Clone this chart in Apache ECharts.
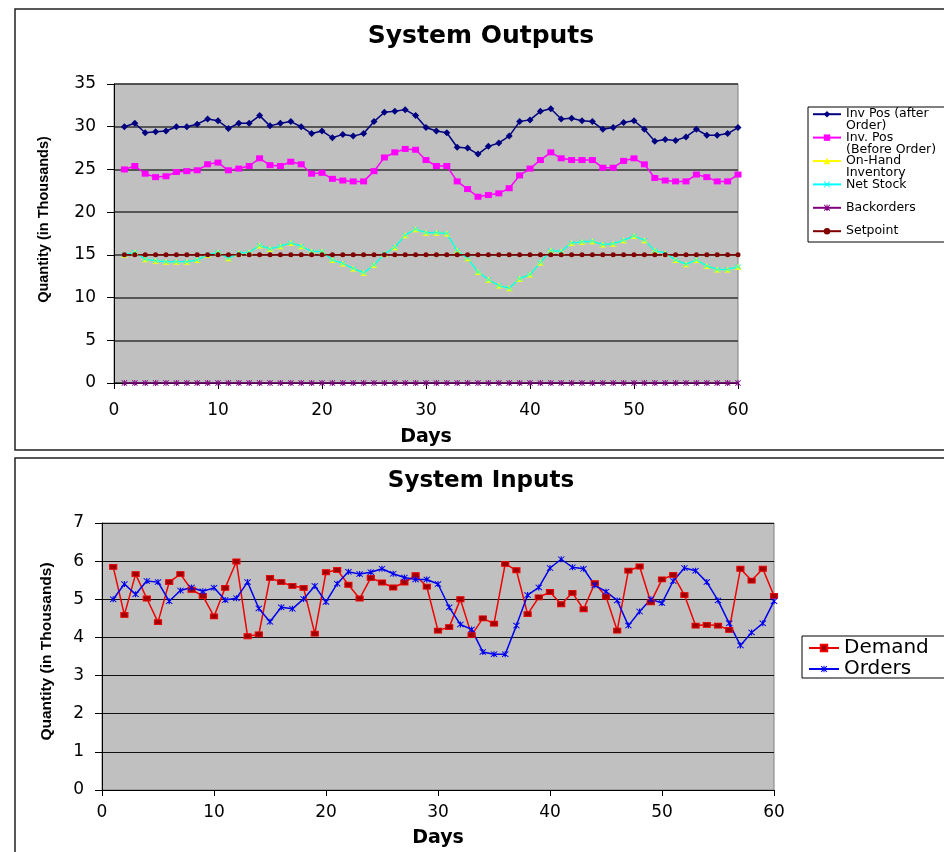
<!DOCTYPE html>
<html>
<head>
<meta charset="utf-8">
<title>System Outputs / System Inputs</title>
<script src="https://cdn.jsdelivr.net/npm/echarts@6/dist/echarts.min.js"></script>
<style>
  html, body { margin: 0; padding: 0; background: #fff; }
  #chart { width: 944px; height: 852px; }
</style>
</head>
<body>
<div id="chart"></div>
<script>
// days on the x axis (both charts)
const days = [1, 2, 3, 4, 5, 6, 7, 8, 9, 10, 11, 12, 13, 14, 15, 16, 17, 18, 19, 20,
  21, 22, 23, 24, 25, 26, 27, 28, 29, 30, 31, 32, 33, 34, 35, 36, 37, 38, 39, 40,
  41, 42, 43, 44, 45, 46, 47, 48, 49, 50, 51, 52, 53, 54, 55, 56, 57, 58, 59, 60]

// System Outputs (thousands)
const invPosAfter = [30.0, 30.4, 29.3, 29.4, 29.5, 30.0, 30.0, 30.3, 30.9, 30.7,
  29.8, 30.4, 30.4, 31.3, 30.1, 30.4, 30.6, 30.0, 29.2, 29.5,
  28.7, 29.1, 28.9, 29.2, 30.6, 31.7, 31.8, 32.0, 31.3, 29.9,
  29.5, 29.3, 27.6, 27.5, 26.8, 27.7, 28.1, 28.9, 30.6, 30.8,
  31.8, 32.1, 30.9, 31.0, 30.7, 30.6, 29.7, 29.9, 30.5, 30.7,
  29.7, 28.3, 28.5, 28.4, 28.8, 29.7, 29.0, 29.0, 29.2, 29.9]
const invPosBefore = [25.0, 25.4, 24.5, 24.1, 24.2, 24.7, 24.8, 24.9, 25.6, 25.8,
  24.9, 25.1, 25.4, 26.3, 25.5, 25.4, 25.9, 25.6, 24.5, 24.6,
  23.9, 23.7, 23.6, 23.6, 24.8, 26.4, 27.0, 27.4, 27.3, 26.1,
  25.4, 25.4, 23.6, 22.7, 21.8, 22.0, 22.2, 22.8, 24.3, 25.1,
  26.1, 27.0, 26.3, 26.1, 26.1, 26.1, 25.2, 25.2, 26.0, 26.3,
  25.6, 24.0, 23.7, 23.6, 23.6, 24.4, 24.1, 23.6, 23.6, 24.4]
const onHand = [15.0, 15.3, 14.5, 14.3, 14.2, 14.2, 14.2, 14.4, 15.0, 15.3,
  14.6, 15.2, 15.3, 16.1, 15.7, 16.0, 16.4, 16.0, 15.4, 15.4,
  14.4, 14.0, 13.4, 12.9, 13.8, 15.1, 15.9, 17.3, 18.0, 17.6,
  17.6, 17.5, 15.5, 14.6, 13.0, 12.1, 11.4, 11.1, 12.2, 12.7,
  14.1, 15.5, 15.4, 16.4, 16.5, 16.6, 16.2, 16.3, 16.7, 17.2,
  16.7, 15.5, 15.2, 14.4, 13.9, 14.4, 13.7, 13.3, 13.3, 13.6]
const netStock = [15.0, 15.3, 14.5, 14.3, 14.2, 14.2, 14.2, 14.4, 15.0, 15.3,
  14.6, 15.2, 15.3, 16.1, 15.7, 16.0, 16.4, 16.0, 15.4, 15.4,
  14.4, 14.0, 13.4, 12.9, 13.8, 15.1, 15.9, 17.3, 18.0, 17.6,
  17.6, 17.5, 15.5, 14.6, 13.0, 12.1, 11.4, 11.1, 12.2, 12.7,
  14.1, 15.5, 15.4, 16.4, 16.5, 16.6, 16.2, 16.3, 16.7, 17.2,
  16.7, 15.5, 15.2, 14.4, 13.9, 14.4, 13.7, 13.3, 13.3, 13.6]
const backorders = [0, 0, 0, 0, 0, 0, 0, 0, 0, 0, 0, 0, 0, 0, 0, 0, 0, 0, 0, 0,
  0, 0, 0, 0, 0, 0, 0, 0, 0, 0, 0, 0, 0, 0, 0, 0, 0, 0, 0, 0,
  0, 0, 0, 0, 0, 0, 0, 0, 0, 0, 0, 0, 0, 0, 0, 0, 0, 0, 0, 0]
const setpoint = [15, 15, 15, 15, 15, 15, 15, 15, 15, 15, 15, 15, 15, 15, 15, 15, 15, 15, 15, 15,
  15, 15, 15, 15, 15, 15, 15, 15, 15, 15, 15, 15, 15, 15, 15, 15, 15, 15, 15, 15,
  15, 15, 15, 15, 15, 15, 15, 15, 15, 15, 15, 15, 15, 15, 15, 15, 15, 15, 15, 15]

// System Inputs (thousands)
const demand = [5.85, 4.59, 5.66, 5.02, 4.40, 5.45, 5.66, 5.25, 5.09, 4.55,
  5.30, 5.99, 4.03, 4.08, 5.56, 5.45, 5.35, 5.30, 4.10, 5.71,
  5.77, 5.38, 5.02, 5.56, 5.44, 5.31, 5.44, 5.63, 5.33, 4.18,
  4.27, 5.00, 4.06, 4.50, 4.36, 5.93, 5.76, 4.61, 5.05, 5.19,
  4.87, 5.17, 4.74, 5.42, 5.07, 4.18, 5.75, 5.86, 4.92, 5.52,
  5.64, 5.11, 4.31, 4.33, 4.31, 4.20, 5.80, 5.49, 5.80, 5.09]
const orders = [5.00, 5.40, 5.13, 5.48, 5.45, 4.95, 5.23, 5.31, 5.21, 5.30,
  4.98, 5.03, 5.45, 4.76, 4.41, 4.79, 4.75, 5.01, 5.35, 4.93,
  5.41, 5.72, 5.66, 5.71, 5.80, 5.67, 5.57, 5.52, 5.52, 5.40,
  4.79, 4.34, 4.21, 3.62, 3.56, 3.56, 4.31, 5.11, 5.31, 5.82,
  6.05, 5.84, 5.80, 5.37, 5.20, 4.97, 4.31, 4.68, 5.00, 4.90,
  5.48, 5.82, 5.75, 5.45, 4.97, 4.37, 3.79, 4.13, 4.37, 4.95]

const outputNames = ['Inv Pos (after Order)', 'Inv. Pos (Before Order)', 'On-Hand Inventory',
  'Net Stock', 'Backorders', 'Setpoint']
const inputNames = ['Demand', 'Orders']

// legend text wrapped like the original; the blank first line keeps
// the icon level with the first line of text
const outputLabels = {
  'Inv Pos (after Order)': ' \nInv Pos (after\nOrder)',
  'Inv. Pos (Before Order)': ' \nInv. Pos\n(Before Order)',
  'On-Hand Inventory': ' \nOn-Hand\nInventory',
  'Net Stock': ' \nNet Stock\n ',
  'Backorders': ' \nBackorders\n ',
  'Setpoint': ' \nSetpoint\n '
}

const FONT = '"DejaVu Sans", "Liberation Sans", sans-serif'
const ARIAL = '"Liberation Sans", Arial, sans-serif'

const xMark = 'path://M0,1L1,0L5,4L9,0L10,1L6,5L10,9L9,10L5,6L1,10L0,9L4,5Z'
const starMark = 'path://M0,1L1,0L5,4L9,0L10,1L6,5L10,9L9,10L5,6L1,10L0,9L4,5Z M4.2,0L5.8,0L5.8,10L4.2,10Z'

const pairs = (vals) => days.map((d, i) => [d, vals[i]])

const lineSeries = (name, vals, color, symbol, size, axis, extra) => Object.assign({
  name: name,
  type: 'line',
  xAxisIndex: axis,
  yAxisIndex: axis,
  data: pairs(vals),
  symbol: symbol,
  symbolSize: size,
  showSymbol: true,
  lineStyle: { color: color, width: 1.5 },
  itemStyle: { color: color },
  emphasis: { disabled: true }
}, extra || {})

const xAxisBase = (gap, labelMargin) => ({
  type: 'value',
  min: 0,
  max: 60,
  interval: 10,
  name: 'Days',
  nameLocation: 'middle',
  nameGap: gap,
  nameTextStyle: { fontFamily: FONT, fontWeight: 'bold', fontSize: 19, color: '#000' },
  axisLine: { show: true, lineStyle: { color: '#000', width: 1 } },
  axisTick: { show: true, length: 6, lineStyle: { color: '#000' } },
  axisLabel: { fontFamily: FONT, fontSize: 17, color: '#000', margin: labelMargin },
  splitLine: { show: false }
})

const yAxisBase = (max, gap, shift, size, splitColor, splitWidth) => ({
  type: 'value',
  min: 0,
  max: max,
  interval: max === 35 ? 5 : 1,
  name: 'Quantity (in Thousands)',
  nameLocation: 'middle',
  nameRotate: 90,
  nameGap: gap,
  nameTextStyle: {
    fontFamily: ARIAL, fontWeight: 'bold', fontSize: size, color: '#000',
    padding: [0, 0, 0, shift]
  },
  axisLine: { show: true, lineStyle: { color: '#000', width: 1 } },
  axisTick: { show: true, length: 7, lineStyle: { color: '#000' } },
  axisLabel: { fontFamily: FONT, fontSize: 17, color: '#000', margin: 18 },
  splitLine: { show: true, lineStyle: { color: splitColor, width: splitWidth } }
})

const chart = echarts.init(document.getElementById('chart'))

const option = {
  animation: false,
  backgroundColor: '#fff',
  title: [
    {
      text: 'System Outputs',
      left: 481, top: 24, padding: 0, textAlign: 'center',
      textStyle: { fontFamily: FONT, fontWeight: 'bold', fontSize: 25, color: '#000' }
    },
    {
      text: 'System Inputs',
      left: 481, top: 470, padding: 0, textAlign: 'center',
      textStyle: { fontFamily: FONT, fontWeight: 'bold', fontSize: 23, color: '#000' }
    }
  ],
  legend: [
    {
      data: outputNames,
      orient: 'vertical',
      left: 812,
      top: 96,
      padding: 0,
      itemGap: -13,
      itemWidth: 28,
      itemHeight: 8,
      selectedMode: false,
      formatter: (name) => outputLabels[name],
      textStyle: { fontFamily: FONT, fontSize: 12.5, lineHeight: 11.7, color: '#000' }
    },
    {
      data: inputNames,
      orient: 'vertical',
      left: 808,
      top: 638,
      padding: 0,
      itemGap: 1,
      itemWidth: 30,
      itemHeight: 8,
      selectedMode: false,
      textStyle: { fontFamily: FONT, fontSize: 20, lineHeight: 20, color: '#000' }
    }
  ],
  grid: [
    { left: 114, top: 84, width: 624, height: 299, show: true, backgroundColor: '#C0C0C0', borderColor: '#808080', borderWidth: 1 },
    { left: 102, top: 523, width: 672, height: 267, show: true, backgroundColor: '#C0C0C0', borderColor: '#808080', borderWidth: 1 }
  ],
  xAxis: [
    Object.assign(xAxisBase(45, 19), { gridIndex: 0 }),
    Object.assign(xAxisBase(39, 14), { gridIndex: 1 })
  ],
  yAxis: [
    Object.assign(yAxisBase(35, 63, 28, 14.5, '#333', 1.6), { gridIndex: 0 }),
    Object.assign(yAxisBase(7, 47, 10, 15.5, '#111', 1.2), { gridIndex: 1 })
  ],
  series: [
    lineSeries('Inv Pos (after Order)', invPosAfter, '#000080', 'diamond', [7, 7], 0),
    lineSeries('Inv. Pos (Before Order)', invPosBefore, '#FF00FF', 'rect', [7, 6], 0),
    lineSeries('On-Hand Inventory', onHand, '#FFFF00', 'triangle', [7, 6], 0),
    lineSeries('Net Stock', netStock, '#00FFFF', xMark, [6, 5], 0),
    lineSeries('Backorders', backorders, '#800080', starMark, [6, 6], 0),
    lineSeries('Setpoint', setpoint, '#800000', 'circle', 5, 0),
    lineSeries('Demand', demand, '#EE0000', 'rect', [7, 5], 1, {
      itemStyle: { color: '#A00000', borderColor: '#EE0000', borderWidth: 1 }
    }),
    lineSeries('Orders', orders, '#0000EE', starMark, [7, 6], 1)
  ],
  graphic: [
    // frames round the two charts and their legends
    { type: 'rect', shape: { x: 15, y: 9, width: 940, height: 441 }, style: { fill: null, stroke: '#222', lineWidth: 1.5 }, z: 10 },
    { type: 'rect', shape: { x: 15, y: 458, width: 940, height: 400 }, style: { fill: null, stroke: '#222', lineWidth: 1.5 }, z: 10 },
    { type: 'rect', shape: { x: 808, y: 107, width: 145, height: 135 }, style: { fill: null, stroke: '#000', lineWidth: 1 }, z: 10 },
    { type: 'rect', shape: { x: 802, y: 636, width: 150, height: 42 }, style: { fill: null, stroke: '#000', lineWidth: 1 }, z: 10 }
  ]
}

chart.setOption(option)
</script>
</body>
</html>
